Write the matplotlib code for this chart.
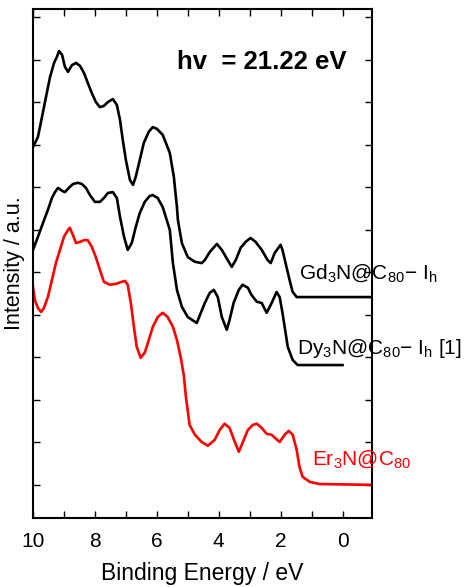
import numpy as np
import matplotlib
matplotlib.use('Agg')
import matplotlib.pyplot as plt
from matplotlib.ticker import MultipleLocator, NullFormatter

plt.rcParams['font.family'] = ['Liberation Sans', 'DejaVu Sans']
plt.rcParams['mathtext.fontset'] = 'custom'
plt.rcParams['mathtext.rm'] = 'Liberation Sans'
plt.rcParams['mathtext.it'] = 'Liberation Sans:italic'
plt.rcParams['mathtext.bf'] = 'Liberation Sans:bold'

# Gd3N@C80-Ih  (binding energy eV, intensity a.u.)
be_gd = [10.00, 9.84, 9.71, 9.58, 9.45, 9.32, 9.23, 9.16, 9.06, 8.97, 8.87, 8.74,
         8.61, 8.48, 8.35, 8.23, 8.10, 7.97, 7.84, 7.71, 7.58, 7.42, 7.29, 7.19,
         7.10, 7.00, 6.87, 6.77, 6.68, 6.55, 6.42, 6.26, 6.13, 6.00, 5.81, 5.58,
         5.45, 5.35, 5.32, 5.19, 5.00, 4.77, 4.55, 4.45, 4.29, 4.06, 3.90, 3.71,
         3.58, 3.45, 3.29, 3.13, 2.97, 2.81, 2.61, 2.42, 2.32, 2.19, 2.00, 1.94,
         1.84, 1.71, 1.61, 1.48, 1.23, -0.95]
i_gd = [7.95, 8.19, 8.66, 9.13, 9.60, 9.93, 10.07, 10.21, 10.12, 9.84, 9.72, 9.88,
        9.93, 9.86, 9.69, 9.46, 9.22, 9.01, 8.89, 8.92, 9.01, 9.08, 8.94, 8.59,
        8.12, 7.65, 7.18, 7.06, 7.25, 7.65, 8.05, 8.31, 8.42, 8.38, 8.24, 7.81,
        7.25, 6.54, 6.24, 5.69, 5.36, 5.25, 5.22, 5.29, 5.48, 5.67, 5.53, 5.29,
        5.13, 5.29, 5.58, 5.72, 5.81, 5.72, 5.53, 5.29, 5.22, 5.46, 5.65, 5.53,
        5.22, 4.82, 4.54, 4.42, 4.42, 4.42]

# Dy3N@C80-Ih [1]
be_dy = [10.00, 9.84, 9.68, 9.52, 9.39, 9.29, 9.19, 9.06, 8.97, 8.84, 8.71, 8.55,
         8.42, 8.29, 8.16, 8.00, 7.84, 7.71, 7.58, 7.42, 7.29, 7.19, 7.06, 6.94,
         6.81, 6.68, 6.55, 6.39, 6.23, 6.13, 5.97, 5.81, 5.58, 5.48, 5.35, 5.19,
         5.00, 4.71, 4.45, 4.29, 4.16, 4.03, 3.90, 3.74, 3.65, 3.52, 3.35, 3.23,
         3.06, 2.94, 2.77, 2.61, 2.45, 2.29, 2.13, 2.03, 1.94, 1.77, 1.61, 1.45,
         0.00]
i_dy = [5.53, 5.84, 6.16, 6.47, 6.75, 6.89, 6.99, 6.92, 6.89, 6.99, 7.08, 7.11,
        7.08, 6.99, 6.82, 6.66, 6.66, 6.75, 6.87, 6.89, 6.75, 6.31, 5.84, 5.53,
        5.69, 6.07, 6.40, 6.66, 6.80, 6.82, 6.75, 6.54, 6.00, 5.22, 4.59, 4.19,
        3.95, 3.81, 4.28, 4.52, 4.59, 4.42, 3.95, 3.65, 3.88, 4.28, 4.59, 4.71,
        4.64, 4.47, 4.31, 4.28, 4.05, 4.28, 4.54, 4.42, 4.05, 3.25, 2.94, 2.82,
        2.82]

# Er3N@C80
be_er = [10.00, 9.94, 9.84, 9.74, 9.65, 9.52, 9.39, 9.26, 9.13, 9.00, 8.87, 8.81,
         8.71, 8.61, 8.48, 8.35, 8.23, 8.10, 7.97, 7.84, 7.71, 7.52, 7.32, 7.13,
         7.03, 6.94, 6.84, 6.74, 6.65, 6.52, 6.39, 6.26, 6.13, 5.97, 5.81, 5.65,
         5.48, 5.35, 5.23, 5.13, 5.06, 4.94, 4.77, 4.55, 4.35, 4.13, 3.97, 3.81,
         3.65, 3.48, 3.35, 3.23, 3.06, 2.90, 2.77, 2.61, 2.45, 2.29, 2.19, 2.03,
         1.87, 1.74, 1.61, 1.48, 1.39, 1.29, 1.06, 0.74, -0.95]
i_er = [4.66, 4.35, 4.16, 4.07, 4.16, 4.42, 4.82, 5.22, 5.53, 5.84, 6.00, 6.05,
        5.88, 5.69, 5.72, 5.76, 5.76, 5.60, 5.36, 5.06, 4.78, 4.71, 4.73, 4.78,
        4.80, 4.71, 4.28, 3.72, 3.25, 2.99, 3.11, 3.41, 3.72, 3.95, 4.05, 3.95,
        3.72, 3.41, 3.01, 2.59, 2.07, 1.41, 1.18, 1.01, 0.92, 1.06, 1.29, 1.44,
        1.34, 1.01, 0.78, 0.99, 1.29, 1.41, 1.44, 1.34, 1.20, 1.18, 1.11, 1.01,
        1.18, 1.27, 1.18, 0.82, 0.42, 0.19, 0.07, 0.02, 0.00]

fig = plt.figure(figsize=(4.75, 5.87), dpi=100)
ax = fig.add_axes([0.0695, 0.1175, 0.7135, 0.8672])

ax.plot(be_gd, i_gd, color='black', lw=1.9)
ax.plot(be_dy, i_dy, color='black', lw=1.9)
ax.plot(be_er, i_er, color='red', lw=1.9)

ax.set_xlim(10, -0.95)
ax.set_ylim(-0.78, 11.2)
ax.xaxis.set_major_locator(MultipleLocator(2))
ax.xaxis.set_minor_locator(MultipleLocator(1))
ax.yaxis.set_major_locator(MultipleLocator(1))
ax.yaxis.set_major_formatter(NullFormatter())
ax.tick_params(which='both', direction='in', top=True, right=True,
               length=5, width=1, labelsize=15)
ax.tick_params(axis='x', pad=10)
for s in ax.spines.values():
    s.set_linewidth(1.5)

ax.set_xlabel('Binding Energy / eV', fontsize=16.5, labelpad=8)
ax.set_ylabel('Intensity / a.u.', fontsize=15.5, labelpad=2)

ax.text(-0.13, 9.95, 'hv  = 21.22 eV', fontsize=18.5, fontweight='bold',
        ha='right', va='center')
ax.text(1.39, 4.98, r'Gd$_3$N@C$_{80}$$-$ I$_\mathrm{h}$', fontsize=15,
        ha='left', va='center', clip_on=False)
ax.text(1.48, 3.2, r'Dy$_3$N@C$_{80}$$-$ I$_\mathrm{h}$ [1]', fontsize=15,
        ha='left', va='center', clip_on=False)
ax.text(1.0, 0.6, r'Er$_3$N@C$_{80}$', fontsize=15, color='red',
        ha='left', va='center', clip_on=False)

fig.savefig('out.png', dpi=100)
